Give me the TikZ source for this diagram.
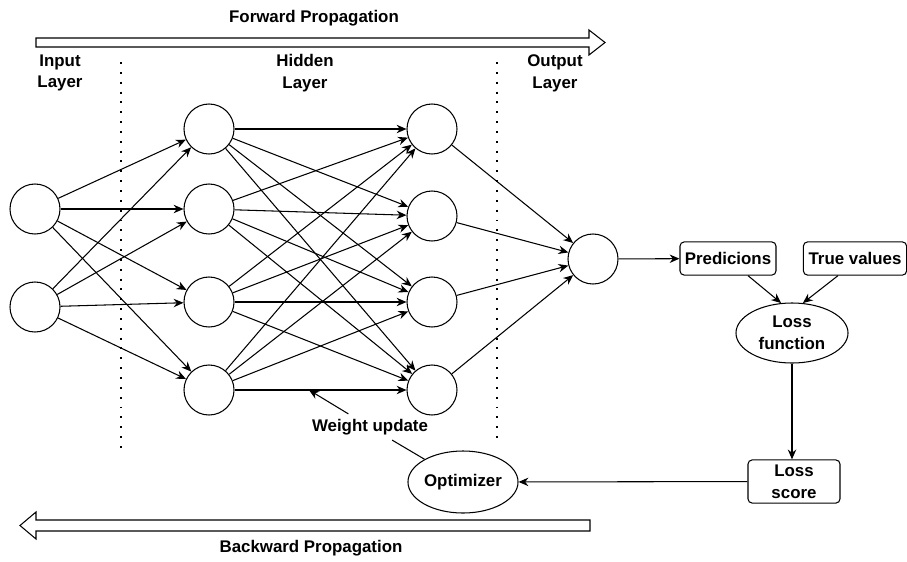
\documentclass[tikz,border=0pt]{standalone}
\usepackage{fontspec}
\setmainfont{Liberation Sans}
\usetikzlibrary{arrows.meta,shapes.geometric}

\begin{document}
\begin{tikzpicture}[x=0.025cm,y=-0.025cm,line width=0.75pt,
    font=\fontsize{12}{15.5}\selectfont\bfseries,
    >={Stealth[length=7pt,width=6pt]}]
    \useasboundingbox (0,0) rectangle (907,561);

    % propagation arrows
    \draw (36,38) -- (589,38) -- (589,30) -- (605,42.5) -- (589,55) -- (589,47) -- (36,47) -- cycle;
    \draw (590,520) -- (36,520) -- (36,512) -- (20,525.5) -- (36,539) -- (36,531) -- (590,531) -- cycle;
    \node (fwd) at (314,18) {Forward Propagation};
    \node (bwd) at (311,548) {Backward Propagation};

    % layers
    \node[align=center] (inlab) at (60,73) {Input\\Layer};
    \node[align=center] (hidlab) at (305,73) {Hidden\\Layer};
    \node[align=center] (outlab) at (555,73) {Output\\Layer};
    \draw[line width=1.4pt,dash pattern=on 1.4pt off 5.6pt] (121,62) -- (121,450);
    \draw[line width=1.4pt,dash pattern=on 1.4pt off 5.6pt] (497,62) -- (497,438);

    \begin{scope}[every node/.style={circle,draw,minimum size=1.25cm,inner sep=0pt}]
      \node (i1) at (35,209) {};
      \node (i2) at (35,307) {};
      \node (h1) at (209,129) {};
      \node (h2) at (209,209) {};
      \node (h3) at (209,302) {};
      \node (h4) at (209,390) {};
      \node (g1) at (432,129) {};
      \node (g2) at (432,216) {};
      \node (g3) at (432,302) {};
      \node (g4) at (432,390) {};
      \node (o) at (593,259) {};
    \end{scope}

    \begin{scope}[every edge/.style={draw}]
      \path [->] (i1) edge (h1) edge (h2) edge (h3) edge (h4);
      \path [->] (i2) edge (h1) edge (h2) edge (h3) edge (h4);
      \path [->] (h1) edge (g1) edge (g2) edge (g3) edge (g4);
      \path [->] (h2) edge (g1) edge (g2) edge (g3) edge (g4);
      \path [->] (h3) edge (g1) edge (g2) edge (g3) edge (g4);
      \path [->] (h4) edge (g1) edge (g2) edge (g3) edge (g4);
      \path [->] (g1) edge (o);
      \path [->] (g2) edge (o);
      \path [->] (g3) edge (o);
      \path [->] (g4) edge (o);
    \end{scope}

    % loss part
    \begin{scope}[every node/.style={draw,rounded corners=3pt,align=center,inner sep=1pt}]
      \node[minimum width=2.4cm,minimum height=0.83cm] (pred) at (728,258.5) {Predicions};
      \node[minimum width=2.58cm,minimum height=0.83cm] (truev) at (855,258.5) {True values};
      \node[minimum width=2.3cm,minimum height=1.08cm] (score) at (794,481.5) {Loss\\score};
    \end{scope}
    \begin{scope}[every node/.style={draw,ellipse,align=center,inner sep=0pt}]
      \node[minimum width=2.8cm,minimum height=1.5cm] (loss) at (792,333) {Loss\\function};
      \node[minimum width=2.75cm,minimum height=1.55cm] (opt) at (463,482) {Optimizer};
    \end{scope}
    \node (wu) at (370,427) {Weight update};
    \coordinate (wtarget) at (309,390);

    \draw[->] (o) -- (pred);
    \draw[->] ([xshift=0.5cm]pred.south) -- (loss.110);
    \draw[->] ([xshift=-0.425cm]truev.south) -- (loss.70);
    \draw[->] (loss.south) -- (loss.south |- score.north);
    \draw[->] (score) -- (opt);
    \draw (opt) -- (wu);
    \draw[->] (wu) -- (wtarget);
\end{tikzpicture}
\end{document}
